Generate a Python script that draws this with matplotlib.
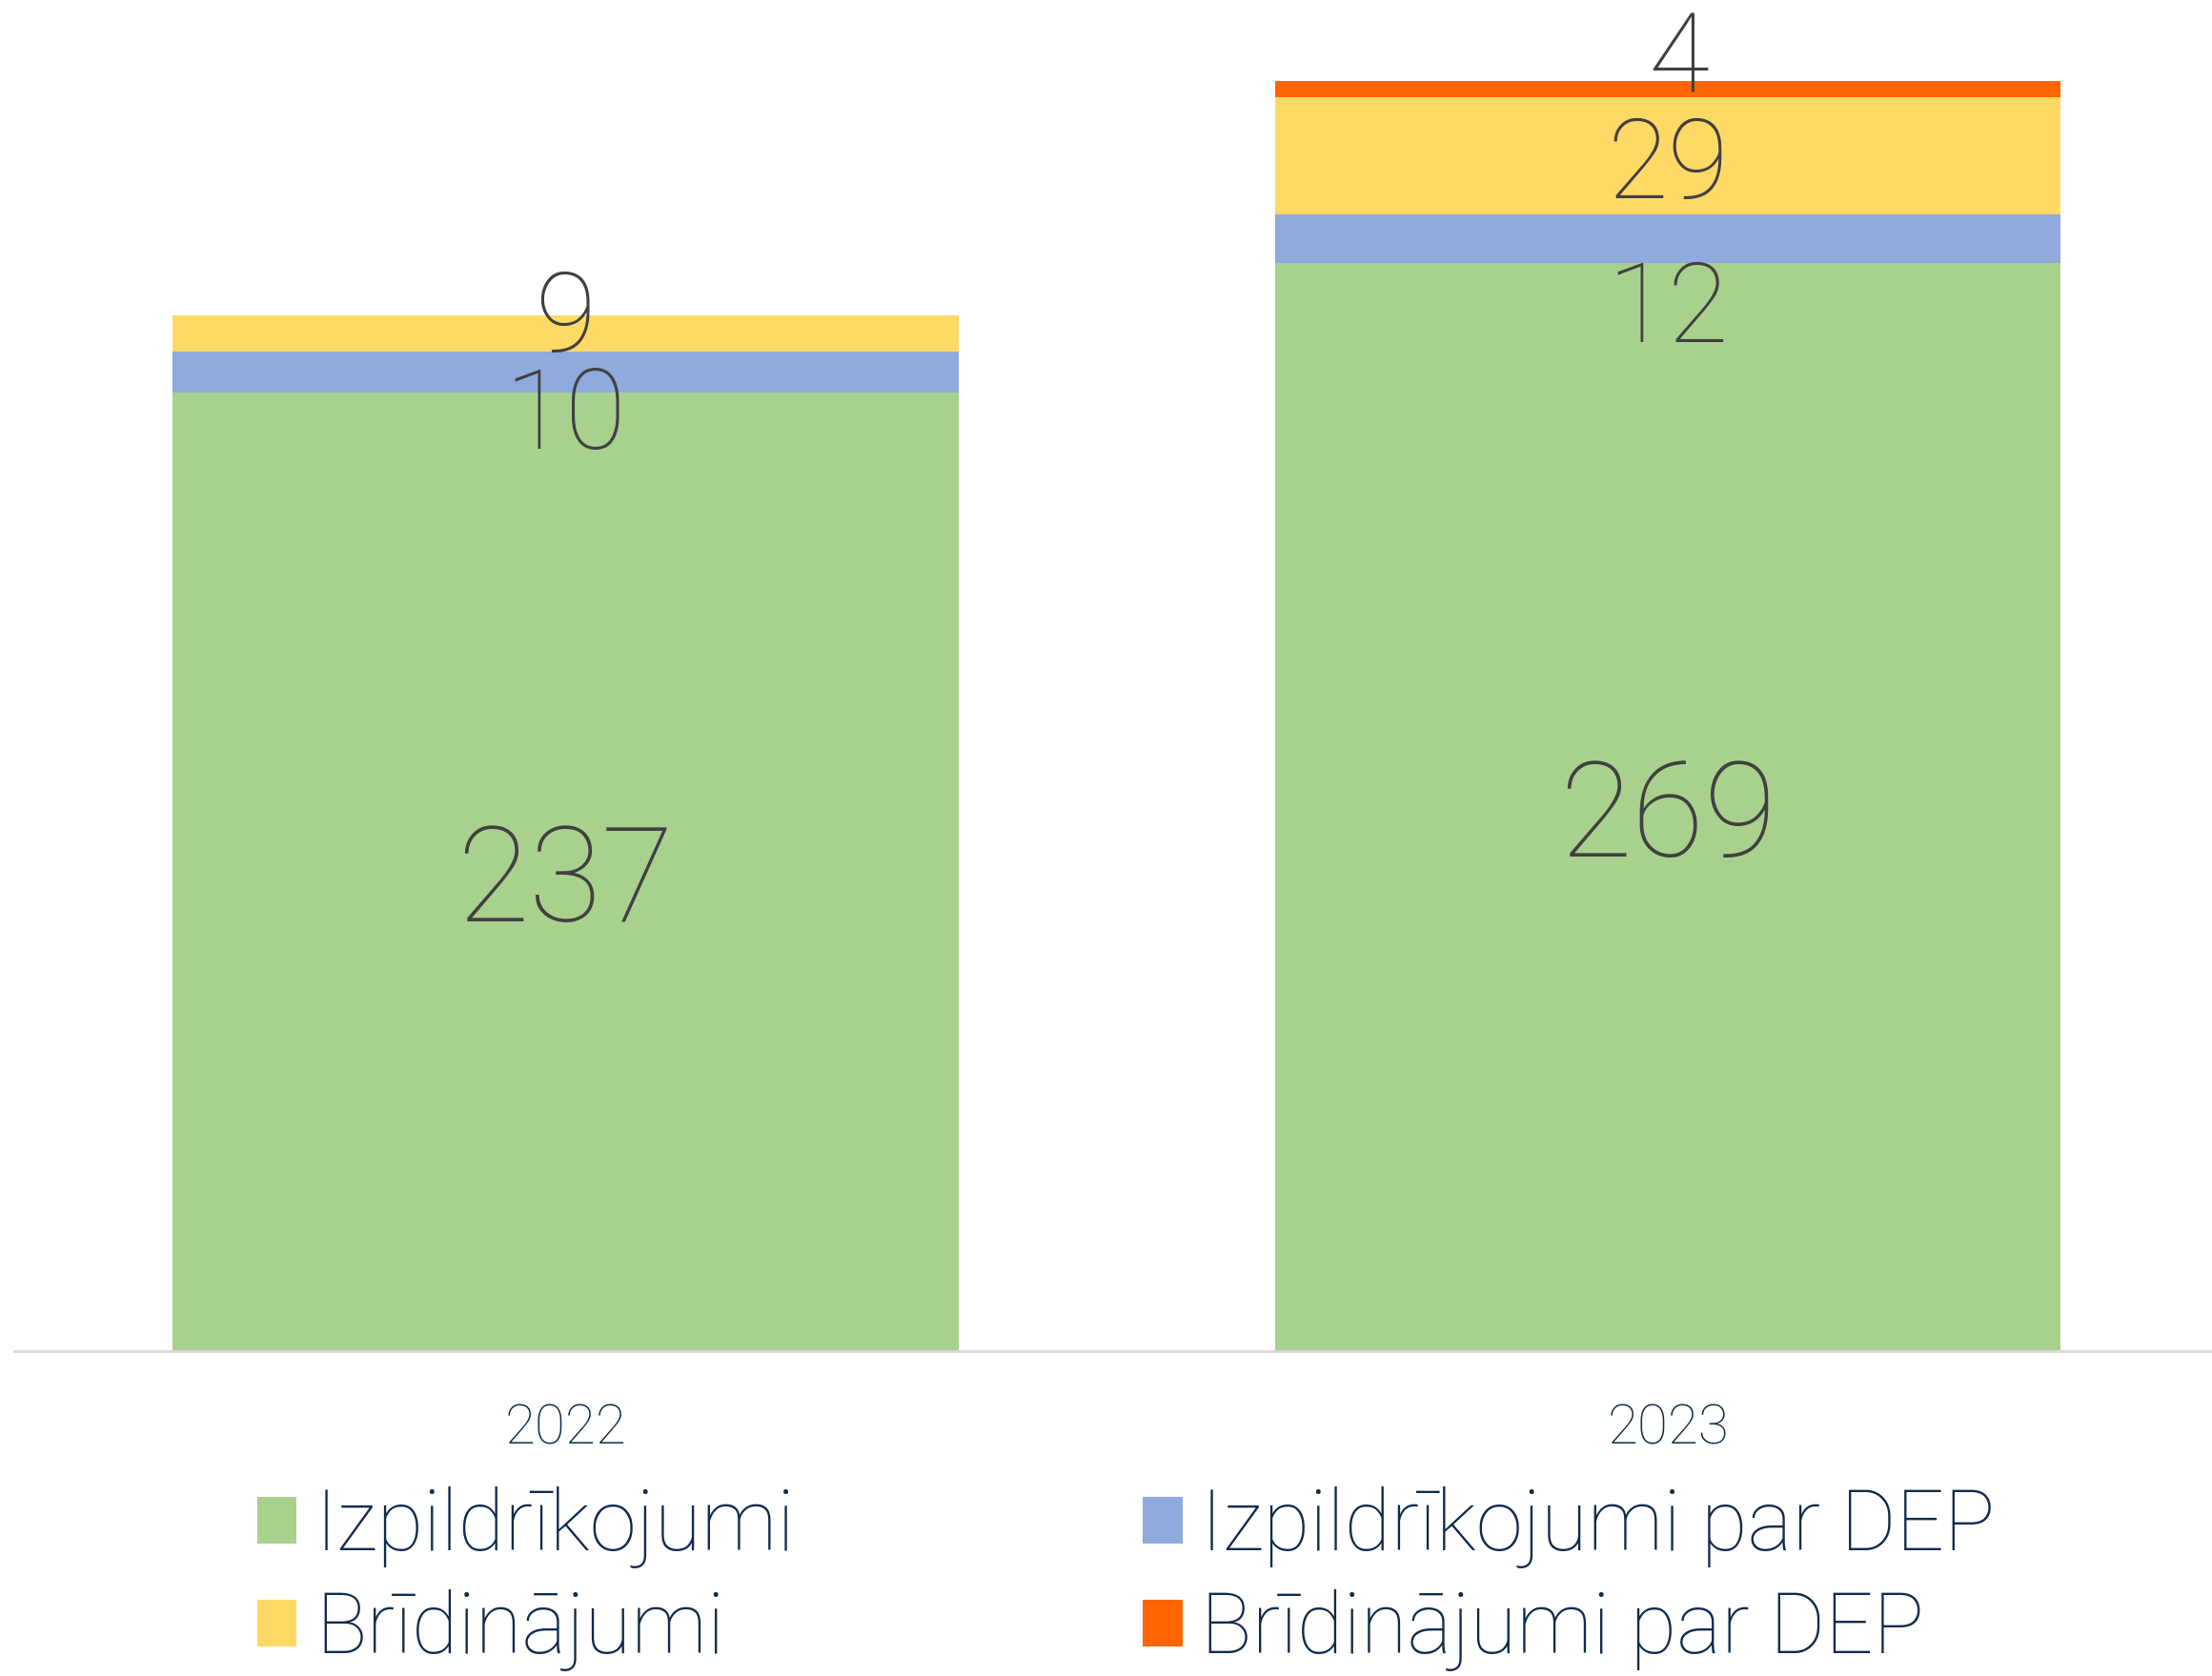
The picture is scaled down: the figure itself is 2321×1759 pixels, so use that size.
"""
Stacked bars: Izpildrīkojumi / Brīdinājumi, 2022 vs 2023.
"""
import numpy as np
import matplotlib
matplotlib.use("Agg")
import matplotlib.pyplot as plt
from matplotlib.patches import Patch

plt.rcParams["font.family"] = ["Roboto", "DejaVu Sans"]
plt.rcParams["font.weight"] = "light"

years = ["2022", "2023"]
series_names = [
    "Izpildrīkojumi",
    "Izpildrīkojumi par DEP",
    "Brīdinājumi",
    "Brīdinājumi par DEP",
]
izpildrikojumi = [237, 269]
izpildrikojumi_dep = [10, 12]
bridinajumi = [9, 29]
bridinajumi_dep = [0, 4]

colors = ["#A9D18E", "#8FAADC", "#FFD966", "#FF6600"]
label_color = "#404040"
navy = "#0E2B4C"

# label nudges in points (Excel moved the small ones apart)
nudges = [
    [(0, -10), (0, -10)],
    [(0, -35), (0, -55)],
    [(0, 10), (0, -9)],
    [(0, 0), (8, 20)],
]

fig = plt.figure(figsize=(23.21, 17.59), dpi=100)
ax = fig.add_axes([0.0065, 0.1939, 0.9967, 0.8061])

x = np.arange(len(years))
data = [izpildrikojumi, izpildrikojumi_dep, bridinajumi, bridinajumi_dep]
bottom = np.zeros(len(years))
for i, vals in enumerate(data):
    vals = np.array(vals, dtype=float)
    ax.bar(x, vals, bottom=bottom, width=0.713, color=colors[i], linewidth=0)
    for j, v in enumerate(vals):
        if v <= 0:
            continue
        size = 100 if i == 0 else 84
        ax.annotate(
            f"{int(v)}",
            xy=(x[j], bottom[j] + v / 2),
            xytext=nudges[i][j],
            textcoords="offset points",
            ha="center",
            va="center",
            fontsize=size,
            color=label_color,
        )
    bottom += vals

ax.set_xlim(-0.5, 1.5)
ax.set_ylim(0, 334)
ax.set_yticks([])
ax.set_xticks(x)
ax.set_xticklabels(years, fontsize=42, color=navy)
ax.tick_params(axis="x", length=0, pad=39)
for s in ["top", "right", "left"]:
    ax.spines[s].set_visible(False)
ax.spines["bottom"].set_color("#D9D9D9")
ax.spines["bottom"].set_linewidth(2)

handles = [Patch(facecolor=c, edgecolor="none") for c in colors]
# order so the columns read: green, yellow | blue, orange
order = [0, 2, 1, 3]
leg = fig.legend(
    [handles[k] for k in order],
    [series_names[k] for k in order],
    loc="center left",
    bbox_to_anchor=(0.097, 0.058),
    ncol=2,
    frameon=False,
    fontsize=64,
    handlelength=0.47,
    handleheight=0.47,
    handletextpad=0.22,
    columnspacing=4.1,
    labelspacing=0.25,
    borderpad=0,
)
for t in leg.get_texts():
    t.set_color(navy)

fig.savefig("out.png", dpi=100, facecolor="white")
